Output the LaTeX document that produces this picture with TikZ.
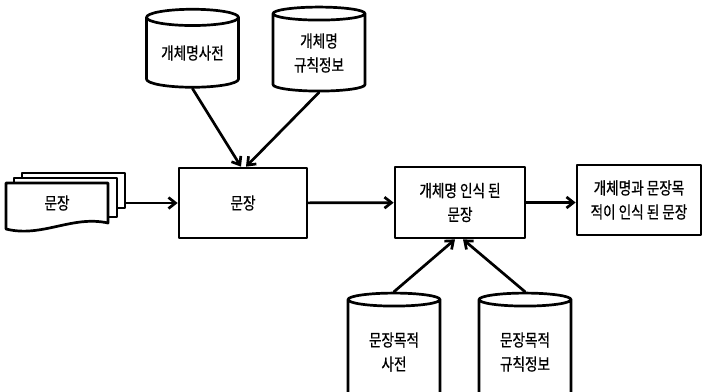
\documentclass[tikz,border=0pt]{standalone}
\usepackage{fontspec}
\newfontfamily\kr[FakeBold=0.6,FakeStretch=0.8]{Noto Sans CJK KR}
\usetikzlibrary{shapes.geometric,arrows.meta}
\begin{document}
\begin{tikzpicture}[x=1pt,y=-1pt,>={Straight Barb[length=7pt,width=11pt]},line width=2.7pt,line join=round,line cap=round,
  font=\kr\fontsize{17}{24}\selectfont,
  box/.style={draw,fill=white,align=center,inner sep=2pt},
  db/.style={cylinder,shape border rotate=90,draw,fill=white,aspect=0.26,minimum width=92pt,align=center,inner sep=0pt},
  sheet/.style={draw,fill=white,minimum width=103pt}]
  \useasboundingbox (0,0) rectangle (703,391);
  \clip (0,0) rectangle (703,391);
  % 입력 문장 묶음
  \node[sheet,minimum height=35pt] (s3) at (73.5,190.5) {};
  \node[sheet,minimum height=39pt] (s2) at (65.5,197.5) {};
  \draw[fill=white] (6,183) -- (108,183) -- (108,223) .. controls (72,215) and (42,238) .. (6,229) -- cycle;
  \node (src) at (57,203) {문장};
  % 처리 단계
  \node[box,minimum width=128pt,minimum height=70pt] (sent) at (243,203) {문장};
  \node[box,minimum width=130pt,minimum height=71pt] (ne) at (460,202.5) {개체명 인식 된\\문장};
  \node[box,minimum width=124pt,minimum height=70pt] (out) at (639,200) {개체명과 문장목\\적이 인식 된 문장};
  % 사전, 규칙
  \node[db,minimum height=78pt] (ned) at (192.5,53) {개체명사전};
  \node[db,minimum height=84pt] (ner) at (319,53) {개체명\\규칙정보};
  \node[db,minimum height=110pt] (psd) at (394,352) {문장목적\\사전};
  \node[db,minimum height=110pt] (psr) at (525,352) {문장목적\\규칙정보};
  \draw[->] (s3.east |- src) -- (sent.west |- src);
  \draw[->] (sent) -- (ne);
  \draw[->] (ne.east) -- (ne.east -| out.west);
  \draw[->] (ned.south) -- ([xshift=-2pt]sent.north);
  \draw[->] (ner.south) -- ([xshift=3pt]sent.north);
  \draw[->] (psd.north) -- ([xshift=-5pt]ne.south);
  \draw[->] (psr.north) -- ([xshift=3pt]ne.south);
\end{tikzpicture}
\end{document}
